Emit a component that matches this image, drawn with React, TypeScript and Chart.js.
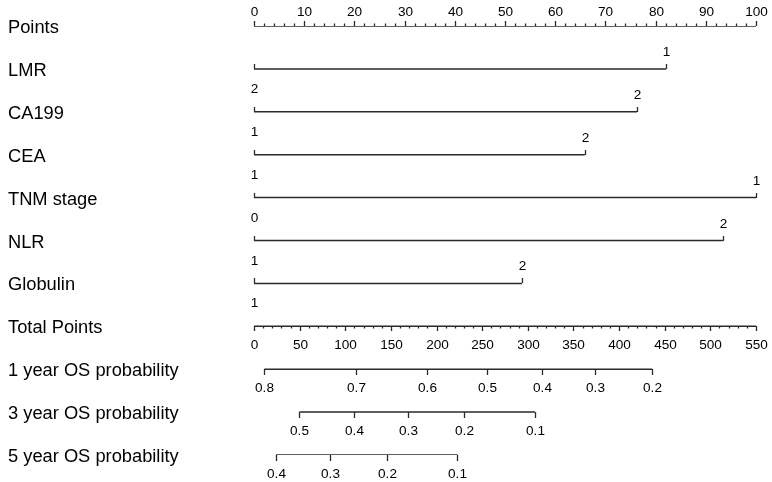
import React, { useEffect, useRef } from "react";
import { Chart, registerables } from "chart.js";

Chart.register(...registerables);

// ---- Data ----
const rowLabels = [
  "Points",
  "LMR",
  "CA199",
  "CEA",
  "TNM stage",
  "NLR",
  "Globulin",
  "Total Points",
  "1 year OS probability",
  "3 year OS probability",
  "5 year OS probability",
];

const pointsMax = 100;
const pointsMajor = [0, 10, 20, 30, 40, 50, 60, 70, 80, 90, 100];
const pointsMinorStep = 2;

const totalMax = 550;
const totalMajor = [0, 50, 100, 150, 200, 250, 300, 350, 400, 450, 500, 550];
const totalMinorStep = 10;

// variables: level labels and their points
const lmrLevels = ["2", "1"];
const lmrPoints = [0, 82.1];
const ca199Levels = ["1", "2"];
const ca199Points = [0, 76.3];
const ceaLevels = ["1", "2"];
const ceaPoints = [0, 65.9];
const tnmLevels = ["0", "1"];
const tnmPoints = [0, 100];
const nlrLevels = ["1", "2"];
const nlrPoints = [0, 93.4];
const globulinLevels = ["1", "2"];
const globulinPoints = [0, 53.4];

// survival probability axes (value -> total points)
const os1Labels = ["0.8", "0.7", "0.6", "0.5", "0.4", "0.3", "0.2"];
const os1Total = [11.3, 112, 189.5, 255, 315.3, 374, 436.5];
const os3Labels = ["0.5", "0.4", "0.3", "0.2", "0.1"];
const os3Total = [49.7, 109.9, 168.4, 230.4, 307.9];
const os5Labels = ["0.4", "0.3", "0.2", "0.1"];
const os5Total = [24.1, 83.3, 145.4, 222.8];

const variables = [
  { row: 1, levels: lmrLevels, pts: lmrPoints },
  { row: 2, levels: ca199Levels, pts: ca199Points },
  { row: 3, levels: ceaLevels, pts: ceaPoints },
  { row: 4, levels: tnmLevels, pts: tnmPoints },
  { row: 5, levels: nlrLevels, pts: nlrPoints },
  { row: 6, levels: globulinLevels, pts: globulinPoints },
];

const probAxes = [
  { row: 8, labels: os1Labels, total: os1Total },
  { row: 9, labels: os3Labels, total: os3Total },
  { row: 10, labels: os5Labels, total: os5Total },
];

const LINE = "#2a2a2a";
const TEXT = "#000000";
const FONT = '"Liberation Sans", Arial, Helvetica, sans-serif';

const t2p = (t: number) => (t * pointsMax) / totalMax;

function seg(x0: number, x1: number, row: number) {
  return {
    data: [
      { x: x0, y: row },
      { x: x1, y: row },
    ],
    showLine: true,
    borderColor: LINE,
    borderWidth: 1.5,
    pointRadius: 0,
    fill: false,
  };
}

const nomoPlugin = {
  id: "nomo",
  afterDatasetsDraw(chart: any) {
    const ctx = chart.ctx as CanvasRenderingContext2D;
    const xs = chart.scales.x;
    const ys = chart.scales.y;
    const X = (v: number) => Math.round(xs.getPixelForValue(v)) + 0.5;
    const Y = (r: number) => Math.round(ys.getPixelForValue(r));
    ctx.save();
    ctx.strokeStyle = LINE;
    ctx.lineWidth = 1.3;
    ctx.fillStyle = TEXT;

    const tick = (x: number, y: number, len: number) => {
      ctx.beginPath();
      ctx.moveTo(x, y);
      ctx.lineTo(x, y + len);
      ctx.stroke();
    };

    // row labels
    ctx.font = "18.3px " + FONT;
    ctx.textAlign = "left";
    ctx.textBaseline = "middle";
    rowLabels.forEach((l, i) => ctx.fillText(l, 8, Y(i) + 2));

    ctx.font = "13.6px " + FONT;
    ctx.textAlign = "center";

    // Points axis (ticks up)
    const yP = Y(0);
    for (let v = 0; v <= pointsMax + 1e-9; v += pointsMinorStep) {
      const major = pointsMajor.includes(v);
      tick(X(v), yP, major ? -5 : -2.5);
    }
    pointsMajor.forEach((v) => ctx.fillText(String(v), X(v), yP - 14));

    // variables
    variables.forEach((vr) => {
      const y = Y(vr.row);
      vr.pts.forEach((p, i) => {
        tick(X(p), y, -5);
        ctx.fillText(vr.levels[i], X(p), i === 0 ? y + 20 : y - 17);
      });
    });

    // Total points axis (ticks down)
    const yT = Y(7);
    for (let v = 0; v <= totalMax + 1e-9; v += totalMinorStep) {
      const major = totalMajor.includes(v);
      tick(X(t2p(v)), yT, major ? 5 : 2.5);
    }
    totalMajor.forEach((v) => ctx.fillText(String(v), X(t2p(v)), yT + 19));

    // probability axes
    probAxes.forEach((ax) => {
      const y = Y(ax.row);
      ax.total.forEach((t, i) => {
        tick(X(t2p(t)), y, 6);
        ctx.fillText(ax.labels[i], X(t2p(t)), y + 19);
      });
    });

    ctx.restore();
  },
};

export default function App() {
  const ref = useRef<HTMLCanvasElement>(null);
  useEffect(() => {
    if (!ref.current) return;
    const datasets: any[] = [];
    datasets.push(seg(0, pointsMax, 0));
    variables.forEach((v) => datasets.push(seg(Math.min(...v.pts), Math.max(...v.pts), v.row)));
    datasets.push(seg(0, t2p(totalMax), 7));
    probAxes.forEach((a) =>
      datasets.push(seg(t2p(Math.min(...a.total)), t2p(Math.max(...a.total)), a.row))
    );
    const chart = new Chart(ref.current, {
      type: "scatter",
      data: { datasets },
      options: {
        animation: false,
        responsive: false,
        events: [],
        layout: { padding: { left: 254, right: 16, top: 26, bottom: 27 } },
        plugins: { legend: { display: false }, tooltip: { enabled: false } },
        scales: {
          x: { type: "linear", min: 0, max: pointsMax, display: false },
          y: { type: "linear", min: 0, max: 10, reverse: true, display: false },
        },
      },
      plugins: [nomoPlugin],
    });
    return () => chart.destroy();
  }, []);
  return (
    <div style={{ position: "fixed", left: 0, top: 0, width: 772, height: 482, background: "#fff" }}>
      <canvas ref={ref} width={772} height={482} style={{ width: 772, height: 482 }} />
    </div>
  );
}
